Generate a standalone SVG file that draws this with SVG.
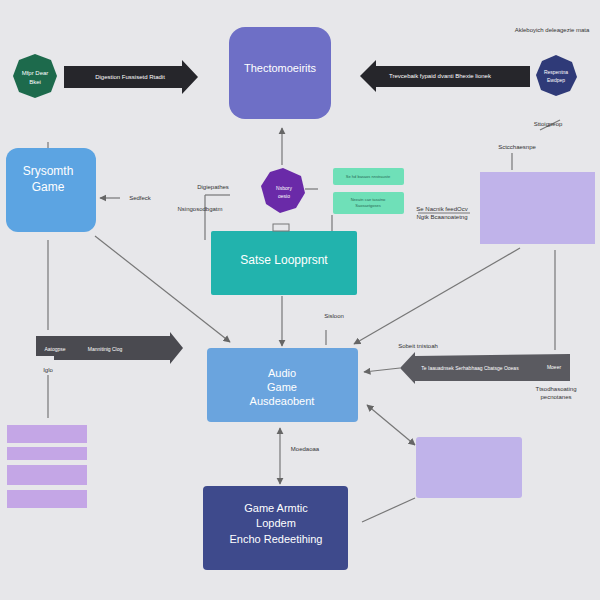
<svg xmlns="http://www.w3.org/2000/svg" width="600" height="600" viewBox="0 0 600 600">
<defs>
<marker id="ah" viewBox="0 0 10 10" refX="9" refY="5" markerWidth="6" markerHeight="6" orient="auto-start-reverse"><path d="M0,0 L10,5 L0,10 z" fill="#666"/></marker>
<style>
text{font-family:"Liberation Sans",Arial,sans-serif;text-anchor:middle}
.w{fill:#fff}
.s{font-size:6px;fill:#333}
.ln{stroke:#777;stroke-width:1.2;fill:none}
.lav{fill:#b9a9ea;opacity:.85}
.pl{fill:#c4a6e6}
</style>
</defs>
<rect width="600" height="600" fill="#e7e7ea"/>
<g id="connectors">
<line class="ln" x1="282" y1="165" x2="282" y2="128" marker-end="url(#ah)"/>
<line class="ln" x1="95" y1="236" x2="230" y2="342" marker-end="url(#ah)"/>
<line class="ln" x1="282" y1="296" x2="282" y2="346" marker-end="url(#ah)"/>
<line class="ln" x1="520" y1="248" x2="354" y2="344" marker-end="url(#ah)"/>
<line class="ln" x1="400" y1="368" x2="364" y2="372" marker-end="url(#ah)"/>
<line class="ln" x1="367" y1="405" x2="415" y2="445" marker-start="url(#ah)" marker-end="url(#ah)"/>
<line class="ln" x1="280" y1="428" x2="280" y2="484" marker-start="url(#ah)" marker-end="url(#ah)"/>
<line class="ln" x1="362" y1="522" x2="415" y2="498"/>
<line class="ln" x1="48" y1="142" x2="48" y2="148"/>
<line class="ln" x1="48" y1="240" x2="48" y2="330"/>
<line class="ln" x1="48" y1="375" x2="48" y2="418"/>
<line class="ln" x1="555" y1="250" x2="555" y2="350"/>
<line class="ln" x1="512" y1="153" x2="512" y2="170"/>
<line class="ln" x1="120" y1="198" x2="100" y2="198" marker-end="url(#ah)"/>
<line class="ln" x1="305" y1="189" x2="318" y2="189"/>
<line class="ln" x1="332" y1="215" x2="332" y2="238"/>
<line class="ln" x1="230" y1="195" x2="205" y2="195"/>
<line class="ln" x1="205" y1="195" x2="205" y2="240"/>
<line class="ln" x1="418" y1="213" x2="470" y2="213"/>
<line class="ln" x1="326" y1="330" x2="326" y2="345"/>
<line class="ln" x1="560" y1="120" x2="540" y2="130"/>
</g>
<g id="top">
<rect x="229" y="27" width="102" height="92" rx="16" fill="#6e6fc6"/>
<text x="280" y="72" class="w" font-size="11">Thectomoeirits</text>
</g>
<g id="green">
<polygon points="35,54 51,60 57,76 51,92 35,98 19,92 13,76 19,60" fill="#1d6a4c"/>
<text x="35" y="75" class="w" font-size="6">Mfpr Dear</text><text x="35" y="84" class="w" font-size="6">Bkei</text>
</g>
<g id="arrowL">
<polygon points="64,66 182,66 182,60 198,77 182,94 182,88 64,88" fill="#26262b"/>
<text x="130" y="79" class="w" font-size="6">Digestion Fussisetd Rtadit</text>
</g>
<g id="navy">
<polygon points="556,55 572,62 577,77 570,91 556,96 541,90 536,75 542,61" fill="#2f3a78"/>
<text x="556" y="74" class="w" font-size="5">Respentna</text><text x="556" y="82" class="w" font-size="5">Ewdpep</text>
</g>
<g id="arrowR">
<polygon points="530,66 376,66 376,60 360,76 376,92 376,87 530,87" fill="#26262b"/>
<text x="440" y="78" class="w" font-size="6">Trevcebaik fypaid dvanti Bhexie lionek</text>
</g>
<text x="552" y="32" class="s" font-size="5">Akleboyich deleagezie mata</text>
<g id="blue">
<rect x="6" y="148" width="90" height="84" rx="12" fill="#5ca4e2"/>
<text x="48" y="175" class="w" font-size="12">Srysomth</text><text x="48" y="191" class="w" font-size="12">Game</text>
</g>
<text x="140" y="200" class="s">Sedfeck</text>
<g id="purple">
<polygon points="283,168 301,176 305,193 296,208 280,213 266,204 261,186 270,172" fill="#6a2aa8"/>
<text x="284" y="190" class="w" font-size="5">Nsbory</text><text x="284" y="198" class="w" font-size="5">oesio</text>
</g>
<text x="213" y="189" class="s">Digiepathes</text>
<text x="200" y="211" class="s">Nsingosodbgatm</text>
<g id="teal-small">
<rect x="333" y="168" width="71" height="17" rx="2" fill="#6fe0b8"/>
<rect x="333" y="192" width="71" height="22" rx="2" fill="#6fe0b8"/>
<text x="368" y="178" font-size="4" fill="#2a6a55">Se hd basaos nnstrauste</text>
<text x="368" y="201" font-size="4" fill="#2a6a55">Neeatn cae tasatno</text>
<text x="368" y="207" font-size="4" fill="#2a6a55">Saosaetgoses</text>
</g>
<g id="teal">
<rect x="211" y="231" width="146" height="64" rx="2" fill="#22b3ad"/>
<rect x="273" y="224" width="16" height="7" fill="none" stroke="#777"/>
<text x="284" y="264" class="w" font-size="12">Satse Loopprsnt</text>
</g>
<text x="442" y="211" class="s" font-size="5">Se Nacnik feedOcv</text>
<text x="442" y="219" class="s" font-size="5">Ngtk Bcaanoatetng</text>
<g id="lav1"><rect x="480" y="172" width="115" height="72" class="lav"/></g>
<text x="548" y="126" class="s" font-size="5">Sttoigpeop</text>
<text x="517" y="149" class="s" font-size="5">Sctcchaesnpe</text>
<g id="center">
<rect x="207" y="348" width="151" height="74" rx="4" fill="#6aa4de"/>
<text x="282" y="377" class="w" font-size="11">Audio</text>
<text x="282" y="391" class="w" font-size="11">Game</text>
<text x="282" y="405" class="w" font-size="11">Ausdeaobent</text>
</g>
<g id="arrowML">
<polygon points="36,336 170,336 170,332 183,348 170,364 170,360 54,360 54,356 36,356" fill="#4a4a50"/>
<text x="55" y="351" class="w" font-size="5">Aatogpse</text>
<text x="105" y="351" class="w" font-size="5">Mannitinig Clog</text>
</g>
<text x="48" y="372" class="s" font-size="4">Iglo</text>
<text x="334" y="318" class="s" font-size="5">Sisloon</text>
<g id="arrowMR">
<polygon points="570,354 570,381 415,381 415,384 400,368 415,352 415,356" fill="#5a5a60"/>
<text x="470" y="370" class="w" font-size="5">Te Iaauadnsek Serhabhaag Cbatsge Ooeas</text>
<text x="554" y="369" class="w" font-size="5">Moeer</text>
</g>
<text x="418" y="348" class="s" font-size="5">Sobeit tnistoah</text>
<text x="556" y="391" class="s" font-size="5">Ttsodhasoating</text>
<text x="556" y="399" class="s" font-size="5">pecnotanes</text>
<g id="stack">
<rect x="7" y="425" width="80" height="18" class="pl"/>
<rect x="7" y="447" width="80" height="13" class="pl"/>
<rect x="7" y="465" width="80" height="20" class="pl"/>
<rect x="7" y="490" width="80" height="18" class="pl"/>
</g>
<text x="305" y="451" class="s" font-size="5">Moedaoaa</text>
<g id="bottom">
<rect x="203" y="486" width="145" height="84" rx="4" fill="#3e4a8c"/>
<text x="276" y="512" class="w" font-size="11">Game Armtic</text>
<text x="276" y="527" class="w" font-size="11">Lopdem</text>
<text x="276" y="543" class="w" font-size="11">Encho Redeetihing</text>
</g>
<g id="lav2"><rect x="416" y="437" width="106" height="61" rx="3" class="lav"/></g>
</svg>
